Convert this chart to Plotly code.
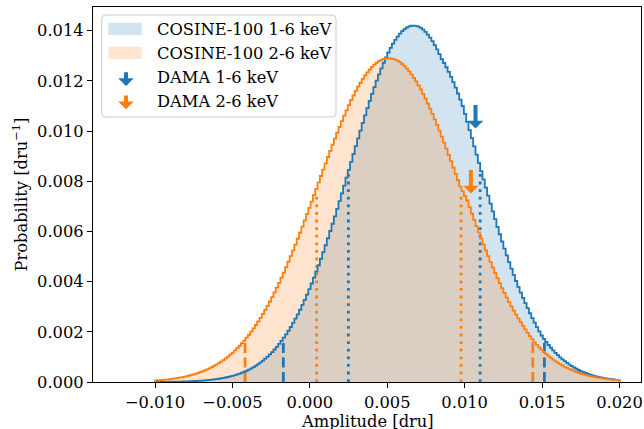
import numpy as np
import plotly.graph_objects as go

# ---------------- data ----------------
bin_lo, bin_hi, n_bins = -0.010, 0.020, 200

blue_prob = [
    0.000004, 0.000004, 0.000005, 0.000006, 0.000007, 0.000008, 0.000009, 0.000010, 0.000012, 0.000014,
    0.000016, 0.000018, 0.000021, 0.000023, 0.000027, 0.000030, 0.000035, 0.000039, 0.000044, 0.000050,
    0.000057, 0.000064, 0.000072, 0.000081, 0.000092, 0.000103, 0.000115, 0.000129, 0.000144, 0.000161,
    0.000179, 0.000200, 0.000222, 0.000246, 0.000273, 0.000303, 0.000335, 0.000370, 0.000408, 0.000449,
    0.000494, 0.000543, 0.000596, 0.000653, 0.000715, 0.000781, 0.000852, 0.000929, 0.001011, 0.001099,
    0.001193, 0.001294, 0.001401, 0.001515, 0.001635, 0.001764, 0.001899, 0.002041, 0.002192, 0.002352,
    0.002521, 0.002695, 0.002878, 0.003071, 0.003272, 0.003480, 0.003699, 0.003925, 0.004159, 0.004402,
    0.004652, 0.004910, 0.005177, 0.005449, 0.005727, 0.006015, 0.006305, 0.006602, 0.006901, 0.007207,
    0.007516, 0.007827, 0.008141, 0.008455, 0.008770, 0.009085, 0.009399, 0.009710, 0.010017, 0.010322,
    0.010620, 0.010913, 0.011200, 0.011478, 0.011748, 0.012006, 0.012255, 0.012493, 0.012718, 0.012929,
    0.013128, 0.013310, 0.013477, 0.013628, 0.013763, 0.013881, 0.013980, 0.014061, 0.014124, 0.014169,
    0.014193, 0.014200, 0.014187, 0.014156, 0.014105, 0.014035, 0.013949, 0.013843, 0.013720, 0.013580,
    0.013423, 0.013251, 0.013063, 0.012861, 0.012708, 0.012539, 0.012357, 0.012159, 0.011949, 0.011728,
    0.011493, 0.011249, 0.010995, 0.010681, 0.010362, 0.010038, 0.009712, 0.009384, 0.009055, 0.008727,
    0.008398, 0.008071, 0.007746, 0.007424, 0.007106, 0.006795, 0.006486, 0.006183, 0.005887, 0.005597,
    0.005315, 0.005041, 0.004774, 0.004515, 0.004265, 0.004023, 0.003788, 0.003562, 0.003348, 0.003141,
    0.002943, 0.002739, 0.002548, 0.002367, 0.002184, 0.002014, 0.001853, 0.001720, 0.001593, 0.001475,
    0.001365, 0.001260, 0.001162, 0.001069, 0.000983, 0.000903, 0.000828, 0.000758, 0.000693, 0.000633,
    0.000578, 0.000527, 0.000479, 0.000435, 0.000395, 0.000358, 0.000324, 0.000293, 0.000264, 0.000238,
    0.000214, 0.000192, 0.000173, 0.000155, 0.000139, 0.000124, 0.000111, 0.000099, 0.000088, 0.000078,
]

orange_prob = [
    0.000062, 0.000069, 0.000077, 0.000085, 0.000095, 0.000105, 0.000116, 0.000128, 0.000141, 0.000155,
    0.000171, 0.000188, 0.000207, 0.000227, 0.000249, 0.000273, 0.000299, 0.000326, 0.000356, 0.000389,
    0.000424, 0.000461, 0.000501, 0.000544, 0.000590, 0.000640, 0.000693, 0.000749, 0.000809, 0.000873,
    0.000941, 0.001014, 0.001091, 0.001172, 0.001258, 0.001349, 0.001445, 0.001547, 0.001652, 0.001765,
    0.001882, 0.002006, 0.002135, 0.002270, 0.002411, 0.002558, 0.002710, 0.002870, 0.003035, 0.003207,
    0.003384, 0.003568, 0.003758, 0.003953, 0.004154, 0.004360, 0.004573, 0.004790, 0.005013, 0.005240,
    0.005471, 0.005707, 0.005946, 0.006190, 0.006436, 0.006685, 0.006935, 0.007188, 0.007442, 0.007697,
    0.007952, 0.008207, 0.008461, 0.008713, 0.008964, 0.009212, 0.009457, 0.009698, 0.009934, 0.010166,
    0.010392, 0.010612, 0.010823, 0.011030, 0.011226, 0.011415, 0.011595, 0.011764, 0.011923, 0.012073,
    0.012210, 0.012336, 0.012450, 0.012553, 0.012642, 0.012718, 0.012782, 0.012832, 0.012868, 0.012891,
    0.012900, 0.012895, 0.012877, 0.012845, 0.012800, 0.012741, 0.012669, 0.012584, 0.012486, 0.012376,
    0.012254, 0.012120, 0.011975, 0.011818, 0.011653, 0.011476, 0.011290, 0.011095, 0.010893, 0.010682,
    0.010466, 0.010241, 0.010012, 0.009777, 0.009537, 0.009294, 0.009047, 0.008797, 0.008545, 0.008291,
    0.008037, 0.007781, 0.007601, 0.007417, 0.007230, 0.006970, 0.006714, 0.006460, 0.006208, 0.005960,
    0.005717, 0.005475, 0.005241, 0.005011, 0.004784, 0.004564, 0.004349, 0.004141, 0.003937, 0.003740,
    0.003549, 0.003363, 0.003185, 0.003012, 0.002846, 0.002686, 0.002533, 0.002387, 0.002244, 0.002100,
    0.001961, 0.001830, 0.001707, 0.001582, 0.001478, 0.001380, 0.001287, 0.001200, 0.001117, 0.001039,
    0.000965, 0.000895, 0.000830, 0.000769, 0.000711, 0.000657, 0.000606, 0.000559, 0.000515, 0.000474,
    0.000436, 0.000400, 0.000367, 0.000336, 0.000307, 0.000281, 0.000257, 0.000234, 0.000214, 0.000195,
    0.000177, 0.000160, 0.000145, 0.000132, 0.000120, 0.000108, 0.000098, 0.000088, 0.000080, 0.000072,
]

# interval markers: (x, height)
blue_dashed_x = [-0.00171, 0.01515]
blue_dashed_h = [0.00173, 0.00168]
blue_dotted_x = [0.00249, 0.01100]
blue_dotted_h = [0.00830, 0.00835]
orange_dashed_x = [-0.00418, 0.01440]
orange_dashed_h = [0.00166, 0.00168]
orange_dotted_x = [0.00044, 0.00977]
orange_dotted_h = [0.00757, 0.00750]

dama_x = [0.0107, 0.0104]
dama_tip = [0.0101, 0.00751]
dama_tail = [0.0111, 0.00851]

labels = ["COSINE-100 1-6 keV", "COSINE-100 2-6 keV", "DAMA 1-6 keV", "DAMA 2-6 keV"]
x_ticks = [-0.010, -0.005, 0.000, 0.005, 0.010, 0.015, 0.020]
y_ticks = [0.000, 0.002, 0.004, 0.006, 0.008, 0.010, 0.012, 0.014]

# ---------------- style ----------------
BLUE = "#1f77b4"
ORANGE = "#ff7f0e"
BLUE_FILL = "rgba(31,119,180,0.2)"
ORANGE_FILL = "rgba(255,127,14,0.2)"
FONT = "DejaVu Serif"
FS = 16.3

W_FIG, H_FIG = 644, 429
L, T, W, H = 93, 7, 548, 375


def px(xp):
    return (xp - L) / W


def py(yp):
    return (T + H - yp) / H


edges = np.linspace(bin_lo, bin_hi, n_bins + 1)


def step_xy(vals):
    xs = [edges[0]] + list(edges[:-1]) + [edges[-1], edges[-1]]
    ys = [0.0] + list(vals) + [vals[-1], 0.0]
    return xs, ys


fig = go.Figure()

bx, by = step_xy(blue_prob)
ox, oy = step_xy(orange_prob)

fig.add_trace(go.Scatter(x=bx, y=by, mode="lines", line=dict(width=0, shape="hv"),
                         fill="tozeroy", fillcolor=BLUE_FILL, showlegend=False, hoverinfo="skip"))
fig.add_trace(go.Scatter(x=ox, y=oy, mode="lines", line=dict(width=0, shape="hv"),
                         fill="tozeroy", fillcolor=ORANGE_FILL, showlegend=False, hoverinfo="skip"))


def vlines(xs, hs, color, dash):
    X, Y = [], []
    for x, h in zip(xs, hs):
        X += [x, x, None]
        Y += [0, h, None]
    fig.add_trace(go.Scatter(x=X, y=Y, mode="lines", line=dict(color=color, width=2.8, dash=dash),
                             showlegend=False, hoverinfo="skip"))


vlines(blue_dashed_x, blue_dashed_h, BLUE, "10px,4.5px")
vlines(blue_dotted_x, blue_dotted_h, BLUE, "2.8px,4.8px")
vlines(orange_dashed_x, orange_dashed_h, ORANGE, "10px,4.5px")
vlines(orange_dotted_x, orange_dotted_h, ORANGE, "2.8px,4.8px")

fig.add_trace(go.Scatter(x=bx, y=by, mode="lines", line=dict(color=BLUE, width=1.8, shape="hv"),
                         showlegend=False, hoverinfo="skip"))
fig.add_trace(go.Scatter(x=ox, y=oy, mode="lines", line=dict(color=ORANGE, width=1.8, shape="hv"),
                         showlegend=False, hoverinfo="skip"))

annotations = []
# DAMA arrows in data coordinates
for x, tip, tail, c in zip(dama_x, dama_tip, dama_tail, [BLUE, ORANGE]):
    annotations.append(dict(x=x, y=tip, ax=x, ay=tail, xref="x", yref="y", axref="x", ayref="y",
                            showarrow=True, arrowhead=1, arrowsize=0.65, arrowwidth=4,
                            arrowcolor=c, text=""))

# legend (manual)
shapes = []
lx0, lx1, ly0, ly1, r = 101.7, 336, 15, 117, 4
path = (f"M {px(lx0 + r)},{py(ly0)} L {px(lx1 - r)},{py(ly0)} "
        f"Q {px(lx1)},{py(ly0)} {px(lx1)},{py(ly0 + r)} L {px(lx1)},{py(ly1 - r)} "
        f"Q {px(lx1)},{py(ly1)} {px(lx1 - r)},{py(ly1)} L {px(lx0 + r)},{py(ly1)} "
        f"Q {px(lx0)},{py(ly1)} {px(lx0)},{py(ly1 - r)} L {px(lx0)},{py(ly0 + r)} "
        f"Q {px(lx0)},{py(ly0)} {px(lx0 + r)},{py(ly0)} Z")
shapes.append(dict(type="path", path=path, xref="paper", yref="paper",
                   line=dict(color="#cccccc", width=1), fillcolor="rgba(255,255,255,0.8)"))
for (y0, y1), fc in zip([(22.7, 35.0), (46.7, 59.0)], [BLUE_FILL, ORANGE_FILL]):
    shapes.append(dict(type="rect", xref="paper", yref="paper", x0=px(108.3), x1=px(141.7),
                       y0=py(y1), y1=py(y0), line=dict(width=0), fillcolor=fc))

for (tip_y, length), c in zip([(86.0, 15.3), (109.3, 15.3)], [BLUE, ORANGE]):
    annotations.append(dict(x=px(126), y=py(tip_y), xref="paper", yref="paper", ax=0, ay=-length,
                            showarrow=True, arrowhead=1, arrowsize=0.65, arrowwidth=4,
                            arrowcolor=c, text=""))

for lab, yc in zip(labels, [29.5, 53.5, 77.5, 101.5]):
    annotations.append(dict(x=px(155), y=py(yc), xref="paper", yref="paper", text=lab,
                            showarrow=False, xanchor="left", yanchor="middle",
                            font=dict(family=FONT, size=FS, color="black")))

# axis titles
annotations.append(dict(x=0.5, y=py(421.5), xref="paper", yref="paper", text="Amplitude [dru]",
                        showarrow=False, xanchor="center", yanchor="middle",
                        font=dict(family=FONT, size=FS, color="black")))
annotations.append(dict(x=px(20), y=0.5, xref="paper", yref="paper",
                        text="Probability [dru<sup>−1</sup>]", textangle=-90,
                        showarrow=False, xanchor="center", yanchor="middle",
                        font=dict(family=FONT, size=FS, color="black")))

axis_common = dict(showgrid=False, zeroline=False, showline=True, linecolor="black", linewidth=1.1,
                   mirror=True, ticks="outside", ticklen=5, tickwidth=1.1, tickcolor="black",
                   tickfont=dict(family=FONT, size=FS, color="black"), tickformat=".3f")

fig.update_layout(
    width=W_FIG, height=H_FIG,
    margin=dict(l=L, r=W_FIG - L - W, t=T, b=H_FIG - T - H, autoexpand=False),
    paper_bgcolor="white", plot_bgcolor="white",
    xaxis=dict(range=[-0.014004, 0.021389], tickvals=x_ticks, **axis_common),
    yaxis=dict(range=[0, 0.01494], tickvals=y_ticks, **axis_common),
    shapes=shapes, annotations=annotations, showlegend=False,
)

fig.write_html("out.html", config={"displayModeBar": False},
               post_script="document.body.style.margin='0px';")
